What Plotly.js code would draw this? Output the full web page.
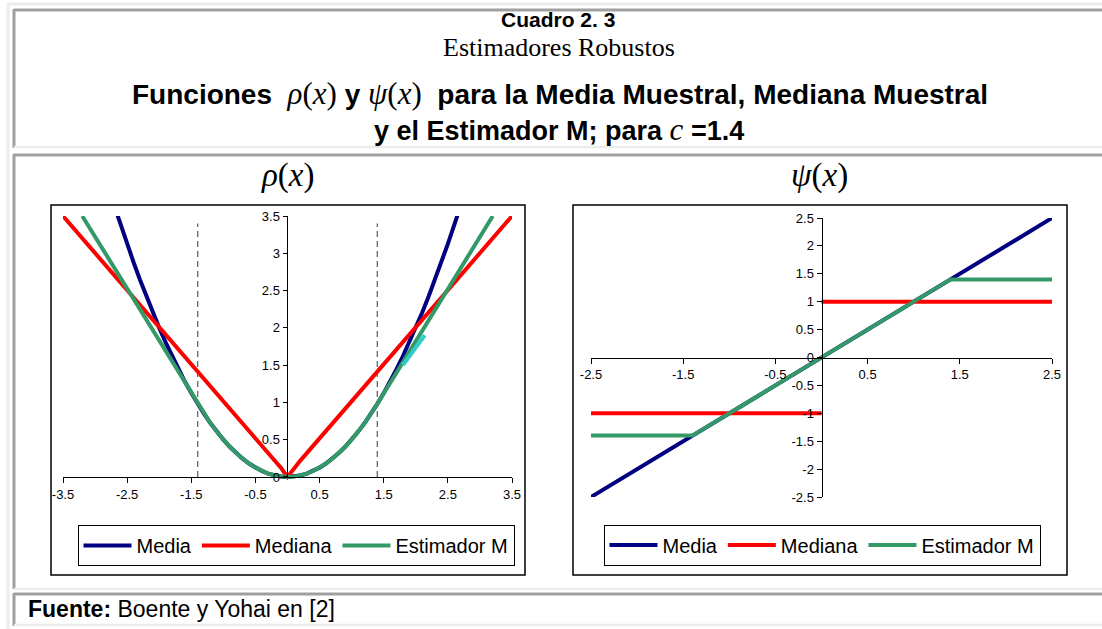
<!DOCTYPE html>
<html><head><meta charset="utf-8">
<script src="https://cdn.plot.ly/plotly-3.0.1.min.js"></script>
<style>html,body{margin:0;padding:0;background:#fff;overflow:hidden}</style>
</head><body><div id="chart" style="width:1102px;height:629px"></div>
<script>
// ---------- data ----------
const seriesNames = ['Media', 'Mediana', 'Estimador M'];
const seriesColors = ['#000080', '#ff0000', '#339966'];

// rho(x) panel
const rhoMediaX = [-2.65,-2.6,-2.5,-2.4,-2.3,-2.2,-2.1,-2.0,-1.9,-1.8,-1.7,-1.6,-1.5,-1.4,-1.3,-1.2,-1.1,-1.0,-0.9,-0.8,-0.7,-0.6,-0.5,-0.4,-0.3,-0.2,-0.1,0,0.1,0.2,0.3,0.4,0.5,0.6,0.7,0.8,0.9,1.0,1.1,1.2,1.3,1.4,1.5,1.6,1.7,1.8,1.9,2.0,2.1,2.2,2.3,2.4,2.5,2.6,2.65];
const rhoMediaY = [3.51,3.38,3.125,2.88,2.645,2.42,2.205,2.0,1.805,1.62,1.445,1.28,1.125,0.98,0.845,0.72,0.605,0.5,0.405,0.32,0.245,0.18,0.125,0.08,0.045,0.02,0.005,0,0.005,0.02,0.045,0.08,0.125,0.18,0.245,0.32,0.405,0.5,0.605,0.72,0.845,0.98,1.125,1.28,1.445,1.62,1.805,2.0,2.205,2.42,2.645,2.88,3.125,3.38,3.51];
const rhoMedianaX = [-3.5,-0.2,-0.1,0,0.1,0.2,3.5];
const rhoMedianaY = [3.5,0.22,0.12,0,0.12,0.22,3.5];
const rhoEstX = [-3.2,-1.4,-1.3,-1.2,-1.1,-1.0,-0.9,-0.8,-0.7,-0.6,-0.5,-0.4,-0.3,-0.2,-0.1,0,0.1,0.2,0.3,0.4,0.5,0.6,0.7,0.8,0.9,1.0,1.1,1.2,1.3,1.4,3.2];
const rhoEstY = [3.5,0.98,0.845,0.72,0.605,0.5,0.405,0.32,0.245,0.18,0.125,0.08,0.045,0.02,0.005,0,0.005,0.02,0.045,0.08,0.125,0.18,0.245,0.32,0.405,0.5,0.605,0.72,0.845,0.98,3.5];
const rhoCyanX = [1.8, 2.14];
const rhoCyanY = [1.5, 1.9];
const cutLeftX = [-1.4, -1.4];
const cutRightX = [1.4, 1.4];
const cutY = [0, 3.4];

// psi(x) panel
const psiMediaX = [-2.5, 2.5];
const psiMediaY = [-2.5, 2.5];
const psiMedianaX = [-2.5, 0, 0, 0, 2.5];
const psiMedianaY = [-1, -1, null, 1, 1];
const psiEstX = [-2.5, -1.4, 1.4, 2.5];
const psiEstY = [-1.4, -1.4, 1.4, 1.4];

// ticks
const rhoXTicks = [-3.5,-2.5,-1.5,-0.5,0.5,1.5,2.5,3.5];
const rhoXText = ['-3.5','-2.5','-1.5','-0.5','0.5','1.5','2.5','3.5'];
const rhoYTicks = [0,0.5,1,1.5,2,2.5,3,3.5];
const rhoYText = ['0','0.5','1','1.5','2','2.5','3','3.5'];
const psiXTicks = [-2.5,-1.5,-0.5,0.5,1.5,2.5];
const psiXText = ['-2.5','-1.5','-0.5','0.5','1.5','2.5'];
const psiYTicks = [-2.5,-2,-1.5,-1,-0.5,0,0.5,1,1.5,2,2.5];
const psiYText = ['-2.5','-2','-1.5','-1','-0.5','0','0.5','1','1.5','2','2.5'];

// ---------- layout helpers ----------
const W = 1102, H = 629;
const px = v => v / W;
const py = v => 1 - v / H;
const SANS = 'Liberation Sans, Arial, sans-serif';
const SERIF = 'Liberation Serif, Times New Roman, serif';

function line(x, y, color, name, xa, ya, legend, showlegend, extra) {
  return Object.assign({
    type: 'scatter', mode: 'lines', x: x, y: y, name: name,
    xaxis: xa, yaxis: ya, legend: legend, showlegend: showlegend,
    line: {color: color, width: 4}, hoverinfo: 'skip', connectgaps: false
  }, extra || {});
}

const traces = [
  line(cutLeftX, cutY, '#666666', 'c', 'x', 'y', 'legend', false, {line:{color:'#666666', width:1.3, dash:'6px,4px'}}),
  line(cutRightX, cutY, '#666666', 'c', 'x', 'y', 'legend', false, {line:{color:'#666666', width:1.3, dash:'6px,4px'}}),
  line(rhoMediaX, rhoMediaY, seriesColors[0], seriesNames[0], 'x', 'y', 'legend', true),
  line(rhoMedianaX, rhoMedianaY, seriesColors[1], seriesNames[1], 'x', 'y', 'legend', true),
  line(rhoEstX, rhoEstY, seriesColors[2], seriesNames[2], 'x', 'y', 'legend', true),
  line(rhoCyanX, rhoCyanY, '#33cccc', 'cyan', 'x', 'y', 'legend', false),
  line(psiMediaX, psiMediaY, seriesColors[0], seriesNames[0], 'x2', 'y2', 'legend2', true),
  line(psiMedianaX, psiMedianaY, seriesColors[1], seriesNames[1], 'x2', 'y2', 'legend2', true),
  line(psiEstX, psiEstY, seriesColors[2], seriesNames[2], 'x2', 'y2', 'legend2', true)
];

function axis(extra) {
  return Object.assign({
    anchor: 'free', showgrid: false, zeroline: false,
    showline: true, linecolor: '#000', linewidth: 1,
    ticks: 'outside', ticklen: 5, tickwidth: 1, tickcolor: '#000',
    tickfont: {family: SANS, size: 13, color: '#000'},
    fixedrange: true, tickmode: 'array'
  }, extra);
}

const grayD = '#a0a0a0', grayL = '#ececec';
function hl(x0, x1, y, color, w) { return {type:'line', xref:'paper', yref:'paper', x0:px(x0), x1:px(x1), y0:py(y), y1:py(y), line:{color:color, width:w}}; }
function vl(x, y0, y1, color, w) { return {type:'line', xref:'paper', yref:'paper', x0:px(x), x1:px(x), y0:py(y0), y1:py(y1), line:{color:color, width:w}}; }
function rect(x0, y0, x1, y1) { return {type:'rect', xref:'paper', yref:'paper', x0:px(x0), x1:px(x1), y0:py(y0), y1:py(y1), line:{color:'#000', width:1.5}, fillcolor:'rgba(0,0,0,0)'}; }

const shapes = [
  vl(8, 3, 629, grayL, 3), hl(8, 1102, 4, grayL, 3),
  // title cell
  vl(14, 9, 148, grayD, 3), hl(14, 1102, 10, grayD, 3), hl(14, 1102, 147, grayL, 2.5),
  // chart cell
  vl(14, 154, 589, grayD, 3), hl(14, 1102, 155, grayD, 3), hl(14, 1102, 589, grayL, 2.5),
  // footer cell
  vl(14, 593, 626, grayD, 3), hl(14, 1102, 594, grayD, 3), hl(14, 1102, 625, grayL, 2.5),
  // chart frames
  rect(51, 205, 525, 575), rect(573, 205, 1067, 575),
  // rho y axis line
  {type:'line', xref:'x', yref:'y', x0:0, x1:0, y0:0, y1:3.5, line:{color:'#000', width:1}}
];

const mathSpan = s => "<span style='font-family:Liberation Serif;font-weight:normal;font-size:31px'>" + s + "</span>";

const annotations = [
  {text:'<b>Cuadro 2. 3</b>', x:px(558), y:py(20), font:{family:SANS, size:21, color:'#000'}},
  {text:'Estimadores Robustos', x:px(559), y:py(47), font:{family:SERIF, size:26, color:'#000'}},
  {text:'<b>Funciones</b>  ' + mathSpan('<i>ρ</i>(<i>x</i>)') + ' <b>y</b> ' + mathSpan('<i>ψ</i>(<i>x</i>)') + '  <b>para la Media Muestral, Mediana Muestral</b>', x:px(560), y:py(94), font:{family:SANS, size:28, color:'#000'}},
  {text:'<b>y el Estimador M; para</b> ' + mathSpan('<i>c</i>') + ' <b>=1.4</b>', x:px(559), y:py(129), font:{family:SANS, size:27, color:'#000'}},
  {text:'<i>ρ</i>(<i>x</i>)', x:px(288), y:py(175), font:{family:SERIF, size:33, color:'#000'}},
  {text:'<i>ψ</i>(<i>x</i>)', x:px(819), y:py(175), font:{family:SERIF, size:33, color:'#000'}},
  {text:'<b>Fuente:</b> Boente y Yohai en [2]', x:px(26), y:py(609), xanchor:'left', font:{family:SANS, size:23, color:'#000'}}
].map(a => Object.assign({xref:'paper', yref:'paper', showarrow:false, yanchor:'middle', xanchor:'center'}, a));

const legendBase = {
  orientation:'h', xanchor:'center', yanchor:'middle', bordercolor:'#000', borderwidth:1,
  bgcolor:'#fff', font:{family:SANS, size:20, color:'#000'}, itemwidth:48, tracegroupgap:0
};

const layout = {
  width: W, height: H, margin: {l:0, r:0, t:0, b:0},
  paper_bgcolor:'#fff', plot_bgcolor:'rgba(0,0,0,0)',
  xaxis: axis({domain:[px(63), px(512)], range:[-3.5, 3.5], position:py(477), tickvals:rhoXTicks, ticktext:rhoXText}),
  yaxis: axis({domain:[py(480.7), py(216)], range:[-0.05, 3.5], position:px(287.5), showline:false, tickvals:rhoYTicks, ticktext:rhoYText}),
  xaxis2: axis({domain:[px(591), px(1052)], range:[-2.5, 2.5], position:py(357.5), tickvals:psiXTicks, ticktext:psiXText}),
  yaxis2: axis({domain:[py(497), py(218)], range:[-2.5, 2.5], position:px(821.5), tickvals:psiYTicks, ticktext:psiYText}),
  legend: Object.assign({x:px(296), y:py(545.5)}, legendBase),
  legend2: Object.assign({x:px(822), y:py(545)}, legendBase),
  shapes: shapes,
  annotations: annotations
};

Plotly.newPlot('chart', traces, layout, {displayModeBar:false, staticPlot:true});
</script>
</body></html>
